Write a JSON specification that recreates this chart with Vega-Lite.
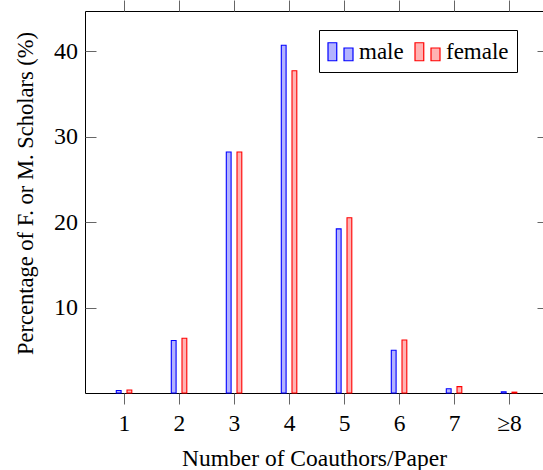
{
  "$schema": "https://vega.github.io/schema/vega-lite/v6.json",
  "autosize": "none",
  "padding": {"left": 85, "top": 11, "right": 0, "bottom": 77},
  "width": 458,
  "height": 382,
  "config": {
    "view": {"stroke": "#000000", "strokeWidth": 1},
    "font": "Liberation Serif"
  },
  "data": {
    "values": [
      {"n": 1, "gender": "male", "pct": 0.3},
      {"n": 1, "gender": "female", "pct": 0.35},
      {"n": 2, "gender": "male", "pct": 6.15},
      {"n": 2, "gender": "female", "pct": 6.4},
      {"n": 3, "gender": "male", "pct": 28.2},
      {"n": 3, "gender": "female", "pct": 28.2},
      {"n": 4, "gender": "male", "pct": 40.7},
      {"n": 4, "gender": "female", "pct": 37.7},
      {"n": 5, "gender": "male", "pct": 19.2},
      {"n": 5, "gender": "female", "pct": 20.5},
      {"n": 6, "gender": "male", "pct": 5.0},
      {"n": 6, "gender": "female", "pct": 6.2},
      {"n": 7, "gender": "male", "pct": 0.5},
      {"n": 7, "gender": "female", "pct": 0.75},
      {"n": 8, "gender": "male", "pct": 0.15},
      {"n": 8, "gender": "female", "pct": 0.1}
    ]
  },
  "resolve": {"axis": {"x": "independent", "y": "independent"}},
  "layer": [
    {
      "transform": [{"filter": "datum.gender == 'male'"}],
      "mark": {"type": "bar", "width": 4.8, "xOffset": -5.3, "strokeWidth": 1.1},
      "encoding": {
        "x": {
          "field": "n", "type": "quantitative",
          "scale": {"domain": [0.291, 8.618], "nice": false, "zero": false, "padding": 0},
          "axis": {
            "orient": "bottom", "values": [1, 2, 3, 4, 5, 6, 7, 8],
            "labelExpr": "datum.value == 8 ? '≥8' : datum.label",
            "tickSize": 11, "tickColor": "#666666", "labelPadding": 7,
            "domain": false, "grid": false,
            "labelFont": "Liberation Serif", "labelFontSize": 23.5, "labelColor": "#000000",
            "title": "Number of Coauthors/Paper",
            "titleFont": "Liberation Serif", "titleFontSize": 23.5, "titleFontWeight": "normal", "titleColor": "#000000",
            "titleY": 72, "titleBaseline": "alphabetic"
          }
        },
        "y": {
          "field": "pct", "type": "quantitative",
          "scale": {"domain": [0, 44.7], "nice": false, "padding": 0},
          "axis": {
            "orient": "left", "values": [10, 20, 30, 40],
            "tickSize": -11, "tickColor": "#666666", "labelPadding": 18.5,
            "domain": false, "grid": false,
            "labelFont": "Liberation Serif", "labelFontSize": 24, "labelColor": "#000000",
            "title": "Percentage of F. or M. Scholars (%)",
            "titleFont": "Liberation Serif", "titleFontSize": 22.5, "titleFontWeight": "normal", "titleColor": "#000000",
            "titleX": -52.5, "titleY": 182, "titleAngle": 270, "titleAlign": "center", "titleBaseline": "alphabetic"
          }
        },
        "color": {
          "field": "gender", "type": "nominal",
          "scale": {"domain": ["male", "female"], "range": ["#b3b3ff", "#ffb3b3"]},
          "legend": {
            "orient": "none", "legendX": 234, "legendY": 19, "direction": "horizontal", "title": null,
            "symbolType": "M-1,-0.72H-0.3V0.72H-1Z M0.28,-0.3H1V0.72H0.28Z",
            "symbolSize": 625, "symbolStrokeWidth": 1.2, "symbolOpacity": 1,
            "labelFont": "Liberation Serif", "labelFontSize": 23, "labelColor": "#000000",
            "labelOffset": 5, "columnPadding": 8, "padding": 8,
            "strokeColor": "#000000", "fillColor": "#ffffff"
          }
        },
        "stroke": {
          "field": "gender", "type": "nominal",
          "scale": {"domain": ["male", "female"], "range": ["#0000ff", "#ff0000"]},
          "legend": {
            "orient": "none", "legendX": 234, "legendY": 19, "direction": "horizontal", "title": null,
            "symbolType": "M-1,-0.72H-0.3V0.72H-1Z M0.28,-0.3H1V0.72H0.28Z",
            "symbolSize": 625, "symbolStrokeWidth": 1.2, "symbolOpacity": 1,
            "labelFont": "Liberation Serif", "labelFontSize": 23, "labelColor": "#000000",
            "labelOffset": 5, "columnPadding": 8, "padding": 8,
            "strokeColor": "#000000", "fillColor": "#ffffff"
          }
        }
      }
    },
    {
      "transform": [{"filter": "datum.gender == 'female'"}],
      "mark": {"type": "bar", "width": 4.8, "xOffset": 5.4, "strokeWidth": 1.1},
      "encoding": {
        "x": {
          "field": "n", "type": "quantitative",
          "axis": {
            "orient": "top", "values": [1, 2, 3, 4, 5, 6, 7, 8], "labels": false,
            "tickSize": 11, "tickColor": "#666666", "domain": false, "grid": false, "title": null
          }
        },
        "y": {
          "field": "pct", "type": "quantitative",
          "axis": {
            "orient": "right", "values": [10, 20, 30, 40], "labels": false,
            "tickSize": -6, "tickColor": "#666666", "domain": false, "grid": false, "title": null
          }
        },
        "color": {"field": "gender", "type": "nominal"},
        "stroke": {"field": "gender", "type": "nominal"}
      }
    }
  ]
}
